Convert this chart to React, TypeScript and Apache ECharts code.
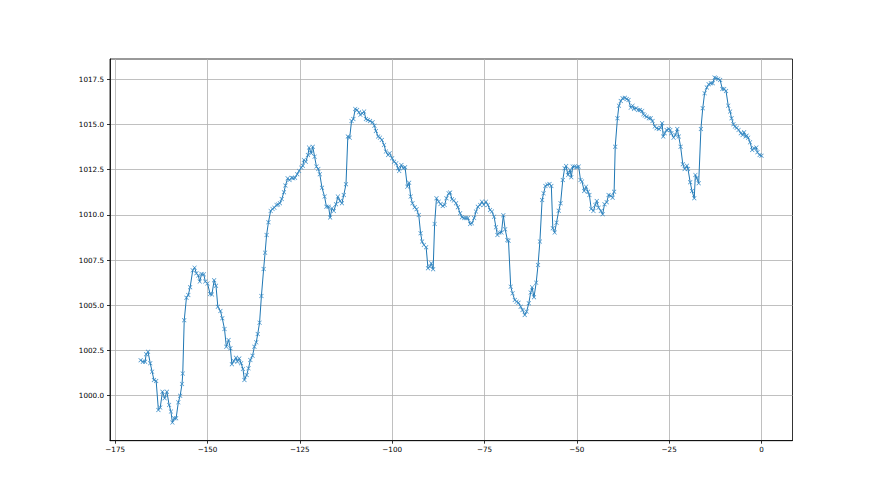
import React, { useEffect, useRef } from "react";
import * as echarts from "echarts";

const hours: number[] = [
  -168.1, -167.5, -166.9, -166.6, -166.1, -165.5, -165.0, -164.5, -163.9, -163.3,
  -162.8, -162.2, -161.6, -161.0, -160.4, -159.9, -159.5, -159.0, -158.5, -157.9,
  -157.4, -156.9, -156.7, -156.3, -155.7, -155.2, -154.7, -154.0, -153.5, -153.0,
  -152.5, -152.1, -151.6, -151.0, -150.6, -150.0, -149.3, -148.8, -148.2, -147.7,
  -147.2, -146.5, -146.0, -145.4, -144.9, -144.3, -143.8, -143.4, -142.9, -142.3,
  -141.9, -141.4, -140.9, -140.4, -140.0, -139.4, -138.9, -138.4, -137.8, -137.3,
  -136.8, -136.4, -135.9, -135.4, -134.8, -134.4, -134.0, -133.5, -132.9, -132.4,
  -131.9, -131.3, -130.9, -130.4, -129.9, -129.3, -128.9, -128.3, -127.8, -127.2,
  -126.8, -126.3, -125.7, -125.2, -124.6, -124.2, -123.9, -123.4, -122.8, -122.5,
  -121.9, -121.5, -121.0, -120.5, -120.0, -119.6, -119.0, -118.3, -117.8, -117.2,
  -116.8, -116.3, -115.8, -115.2, -114.7, -114.1, -113.6, -113.1, -112.5, -112.0,
  -111.5, -111.0, -110.5, -110.0, -109.5, -109.0, -108.6, -108.1, -107.6, -107.1,
  -106.6, -106.0, -105.3, -104.8, -104.4, -103.8, -103.3, -102.8, -102.2, -101.7,
  -101.1, -100.7, -100.0, -99.5, -98.9, -98.4, -98.1, -97.5, -97.0, -96.5,
  -95.9, -95.4, -95.0, -94.5, -93.9, -93.4, -92.8, -92.3, -91.9, -91.4,
  -90.8, -90.3, -89.8, -89.4, -88.9, -88.5, -88.0, -87.4, -86.9, -86.3,
  -85.8, -85.3, -84.7, -84.3, -83.8, -83.3, -82.7, -82.2, -81.6, -81.1,
  -80.5, -80.0, -79.5, -78.9, -78.4, -77.8, -77.3, -76.8, -76.2, -75.7,
  -75.2, -74.6, -74.1, -73.5, -73.0, -72.4, -71.9, -71.5, -71.0, -70.4,
  -69.9, -69.4, -68.8, -68.5, -67.9, -67.4, -66.8, -66.3, -65.8, -65.2,
  -64.7, -64.1, -63.6, -63.0, -62.5, -62.1, -61.6, -61.0, -60.5, -60.0,
  -59.4, -59.0, -58.5, -58.0, -57.4, -56.9, -56.5, -56.0, -55.5, -54.9,
  -54.4, -53.8, -53.3, -52.9, -52.4, -51.8, -51.5, -51.1, -50.6, -50.0,
  -49.5, -49.0, -48.6, -48.0, -47.5, -47.0, -46.6, -46.1, -45.5, -45.0,
  -44.6, -44.1, -43.5, -43.0, -42.5, -41.9, -41.4, -40.8, -40.3, -39.9,
  -39.6, -39.0, -38.6, -38.1, -37.6, -37.0, -36.5, -36.0, -35.4, -34.9,
  -34.5, -33.9, -33.4, -32.9, -32.3, -32.0, -31.6, -31.1, -30.5, -30.0,
  -29.5, -28.9, -28.4, -27.8, -27.3, -26.9, -26.6, -26.2, -25.7, -25.1,
  -24.7, -24.4, -23.8, -23.3, -22.8, -22.4, -21.9, -21.3, -20.8, -20.2,
  -19.9, -19.3, -18.8, -18.2, -17.9, -17.5, -17.0, -16.4, -15.9, -15.4,
  -14.8, -14.3, -13.7, -13.2, -12.7, -12.3, -11.7, -11.2, -10.6, -10.1,
  -9.6, -9.0, -8.5, -8.1, -7.6, -7.2, -6.7, -6.2, -5.6, -5.1,
  -4.7, -4.3, -4.0, -3.6, -3.1, -2.5, -2.0, -1.4, -1.1, -0.5,
  0.0,
];

const pressure: number[] = [
  1001.96, 1001.88, 1001.88, 1002.29, 1002.43, 1001.79, 1001.33, 1000.87, 1000.81, 999.21,
  999.34, 1000.22, 999.86, 1000.22, 999.49, 999.12, 998.51, 998.75, 998.75, 999.63,
  1000.0, 1000.65, 1001.22, 1004.17, 1005.42, 1005.57, 1006.0, 1006.93, 1007.08, 1006.77,
  1006.64, 1006.31, 1006.73, 1006.71, 1006.31, 1006.21, 1005.62, 1005.6, 1006.38, 1006.08,
  1004.92, 1004.68, 1004.28, 1003.69, 1002.71, 1003.08, 1002.62, 1001.74, 1001.92, 1002.1,
  1001.88, 1002.06, 1001.79, 1001.48, 1000.87, 1001.14, 1001.51, 1001.97, 1002.21, 1002.71,
  1002.95, 1003.41, 1004.04, 1005.51, 1007.01, 1007.91, 1008.89, 1009.59, 1010.22, 1010.33,
  1010.4, 1010.55, 1010.58, 1010.64, 1010.88, 1011.25, 1011.62, 1012.02, 1011.93, 1012.05,
  1012.02, 1012.05, 1012.25, 1012.43, 1012.61, 1012.72, 1013.04, 1012.94, 1013.31, 1013.72,
  1013.41, 1013.77, 1013.22, 1012.67, 1012.54, 1012.25, 1011.5, 1011.01, 1010.45, 1010.45,
  1009.85, 1010.36, 1010.22, 1010.59, 1011.01, 1010.77, 1010.64, 1011.1, 1011.69, 1014.33,
  1014.27, 1015.19, 1015.3, 1015.86, 1015.8, 1015.67, 1015.53, 1015.62, 1015.71, 1015.3,
  1015.25, 1015.19, 1015.12, 1014.93, 1014.64, 1014.33, 1014.27, 1014.14, 1013.87, 1013.5,
  1013.31, 1013.41, 1013.13, 1012.94, 1012.85, 1012.58, 1012.43, 1012.76, 1012.58, 1012.63,
  1011.56, 1011.78, 1011.01, 1010.64, 1010.42, 1010.31, 1009.99, 1008.98, 1008.52, 1008.34,
  1008.21, 1007.05, 1007.14, 1007.32, 1006.99, 1009.5, 1010.92, 1010.73, 1010.6, 1010.49,
  1010.55, 1010.92, 1011.19, 1011.23, 1010.86, 1010.79, 1010.64, 1010.42, 1010.09, 1009.87,
  1009.82, 1009.82, 1009.82, 1009.5, 1009.53, 1009.82, 1010.18, 1010.45, 1010.55, 1010.73,
  1010.55, 1010.73, 1010.55, 1010.27, 1010.18, 1009.9, 1009.31, 1008.89, 1009.02, 1009.02,
  1009.98, 1009.2, 1008.61, 1008.57, 1006.03, 1005.66, 1005.29, 1005.2, 1005.14, 1004.92,
  1004.74, 1004.46, 1004.65, 1005.11, 1005.7, 1005.99, 1005.44, 1006.25, 1007.23, 1008.52,
  1010.82, 1011.19, 1011.6, 1011.67, 1011.71, 1011.6, 1009.26, 1009.02, 1009.57, 1010.23,
  1010.64, 1011.93, 1012.58, 1012.7, 1012.2, 1012.48, 1012.08, 1012.67, 1012.67, 1012.63,
  1012.67, 1011.93, 1011.84, 1011.32, 1011.56, 1011.28, 1011.1, 1010.33, 1010.22, 1010.55,
  1010.77, 1010.4, 1010.22, 1010.03, 1010.59, 1010.7, 1011.1, 1011.06, 1010.95, 1011.28,
  1013.77, 1015.34, 1016.04, 1016.3, 1016.45, 1016.48, 1016.41, 1016.35, 1015.93, 1016.04,
  1015.86, 1015.9, 1015.8, 1015.8, 1015.75, 1015.56, 1015.49, 1015.43, 1015.34, 1015.34,
  1015.19, 1014.88, 1014.79, 1014.75, 1014.82, 1015.07, 1014.33, 1014.51, 1014.69, 1014.75,
  1014.69, 1014.51, 1014.27, 1014.42, 1014.75, 1014.33, 1013.77, 1012.8, 1012.54, 1012.72,
  1012.54, 1011.8, 1011.32, 1010.92, 1012.21, 1012.02, 1011.75, 1014.75, 1015.9, 1016.73,
  1017.04, 1017.22, 1017.28, 1017.28, 1017.59, 1017.55, 1017.52, 1017.46, 1016.96, 1016.96,
  1016.85, 1016.04, 1015.71, 1015.34, 1015.01, 1014.88, 1014.82, 1014.7, 1014.51, 1014.42,
  1014.57, 1014.33, 1014.38, 1014.27, 1014.01, 1013.59, 1013.68, 1013.72, 1013.46, 1013.31,
  1013.27,
];

const xTicks: number[] = [-175, -150, -125, -100, -75, -50, -25, 0];
const yTicks: number[] = [1000, 1002.5, 1005, 1007.5, 1010, 1012.5, 1015, 1017.5];

const X_MARK =
  "path://M0,1L1,0L5,4L9,0L10,1L6,5L10,9L9,10L5,6L1,10L0,9L4,5Z";

export default function App() {
  const ref = useRef<HTMLDivElement>(null);

  useEffect(() => {
    if (!ref.current) return;
    const chart = echarts.init(ref.current, null, { renderer: "svg" });
    const data = hours.map((h, i) => [h, pressure[i]]);
    const labelStyle = {
      color: "#000",
      fontFamily: "DejaVu Sans",
      fontSize: 7.2,
    };
    chart.setOption({
      animation: false,
      backgroundColor: "#fff",
      grid: {
        left: 110,
        right: 87.5,
        top: 59,
        bottom: 54.3,
        show: true,
        borderColor: "#000",
        borderWidth: 0.8,
        backgroundColor: "transparent",
      },
      xAxis: {
        type: "value",
        min: -176.4,
        max: 8.4,
        axisLine: { show: true, onZero: false, lineStyle: { color: "#000", width: 0.8 } },
        axisTick: {
          show: true,
          length: 3,
          customValues: xTicks,
          lineStyle: { color: "#000", width: 0.8 },
        },
        axisLabel: {
          ...labelStyle,
          margin: 5,
          customValues: xTicks,
          formatter: (v: number) => (v < 0 ? "\u2212" + Math.abs(v) : String(v)),
        },
        splitLine: { show: true, lineStyle: { color: "#b0b0b0", width: 0.8 } },
      },
      yAxis: {
        type: "value",
        min: 997.51,
        max: 1018.62,
        axisLine: { show: true, onZero: false, lineStyle: { color: "#000", width: 0.8 } },
        axisTick: {
          show: true,
          length: 3,
          customValues: yTicks,
          lineStyle: { color: "#000", width: 0.8 },
        },
        axisLabel: {
          ...labelStyle,
          margin: 6,
          customValues: yTicks,
          formatter: (v: number) => v.toFixed(1),
        },
        splitLine: { show: true, lineStyle: { color: "#b0b0b0", width: 0.8 } },
      },
      series: [
        {
          type: "line",
          data,
          showSymbol: true,
          symbol: X_MARK,
          symbolSize: 4.5,
          itemStyle: { color: "#3a8cc6" },
          lineStyle: { color: "#1f77b4", width: 1 },
          emphasis: { disabled: true },
        },
      ],
    });
    return () => chart.dispose();
  }, []);

  return (
    <div
      ref={ref}
      style={{ position: "absolute", left: 0, top: 0, width: 880, height: 495 }}
    />
  );
}
